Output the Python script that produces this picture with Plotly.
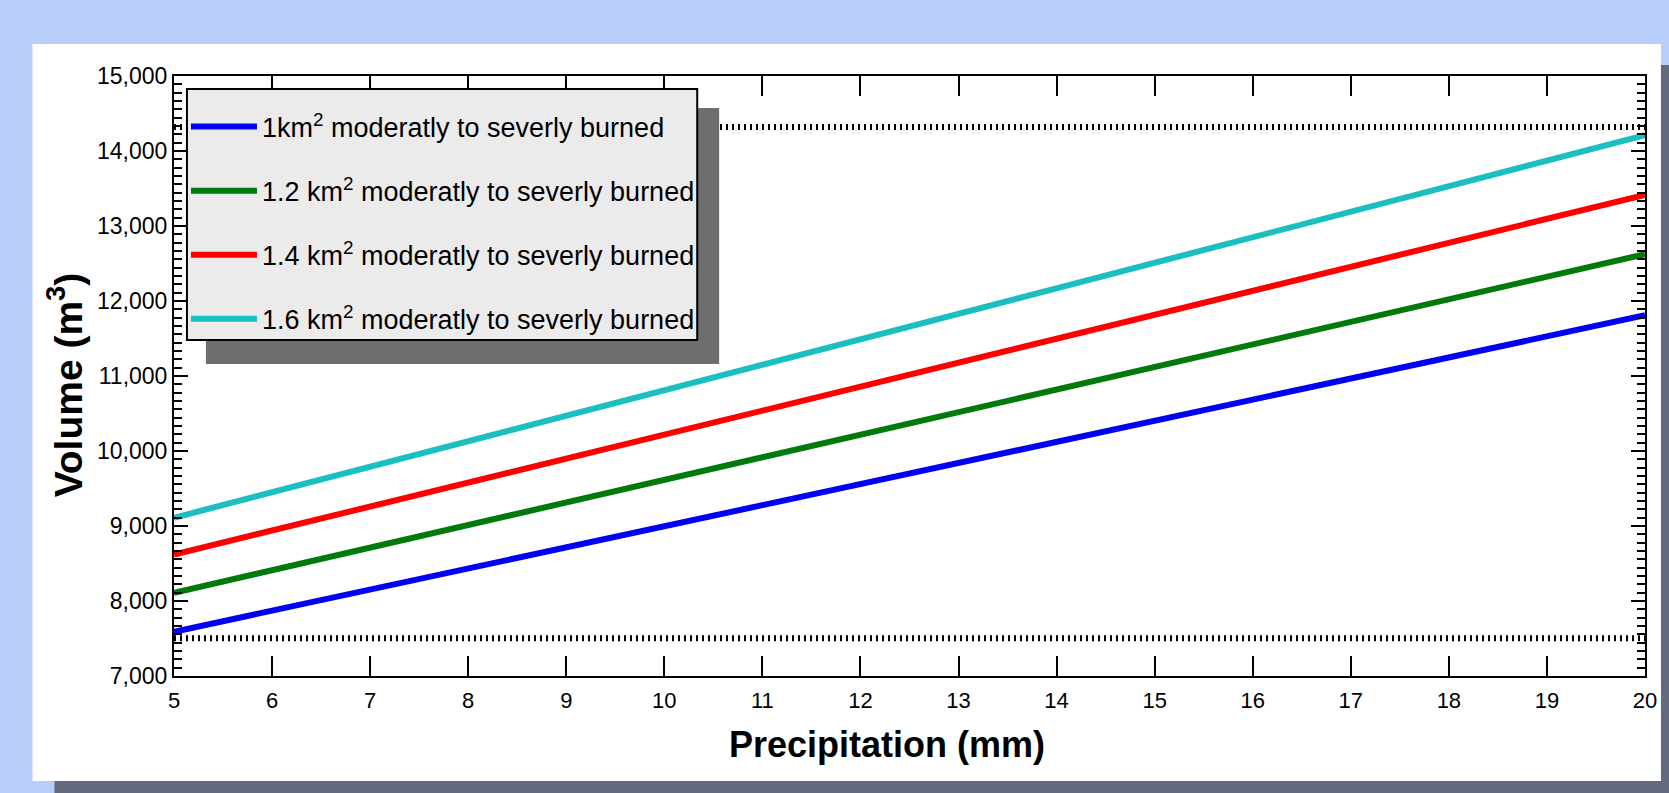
import plotly.graph_objects as go

# ---- data ----
precip_mm = [5, 20]
vol_1_0 = [7590, 11810]
vol_1_2 = [8110, 12625]
vol_1_4 = [8620, 13415]
vol_1_6 = [9110, 14210]
series_names = [
    "1km<sup>2</sup> moderatly to severly burned",
    "1.2 km<sup>2</sup> moderatly to severly burned",
    "1.4 km<sup>2</sup> moderatly to severly burned",
    "1.6 km<sup>2</sup> moderatly to severly burned",
]
series_colors = ["#0000f2", "#007a0a", "#ff0000", "#1cbfbf"]
x_ticks = list(range(5, 21))
y_ticks = list(range(7000, 15001, 1000))
ref_levels = [14320, 7505]

FONT = "Liberation Sans, Arial, sans-serif"

W, H = 1669, 793
L, R, T, B = 174, 19, 76, 117
PW, PH = W - L - R, H - T - B


def px_x(p):
    return (p - L) / PW


def px_y(p):
    return (H - B - p) / PH


fig = go.Figure()
for i, (vals, name, col) in enumerate(zip([vol_1_0, vol_1_2, vol_1_4, vol_1_6], series_names, series_colors)):
    fig.add_trace(go.Scatter(x=precip_mm, y=vals, mode="lines", name=name,
                             legendgroup=f"g{i}",
                             line=dict(color=col, width=6)))

shapes = []
# page decoration: dark shadow then white panel (below plot)
shapes.append(dict(type="rect", xref="paper", yref="paper", layer="below",
                   x0=px_x(54), x1=px_x(1700), y0=px_y(820), y1=px_y(65),
                   fillcolor="#646a7e", line=dict(width=0)))
shapes.append(dict(type="rect", xref="paper", yref="paper", layer="below",
                   x0=px_x(32), x1=px_x(1666), y0=px_y(781), y1=px_y(44),
                   fillcolor="white", line=dict(width=0)))
# dotted reference levels
for lv in ref_levels:
    shapes.append(dict(type="line", xref="paper", yref="y", layer="above",
                       x0=0, x1=1, y0=lv, y1=lv,
                       line=dict(color="black", width=6, dash="2px,4px")))
# legend shadow and legend box
shapes.append(dict(type="rect", xref="paper", yref="paper", layer="above",
                   x0=px_x(206), x1=px_x(721), y0=px_y(364), y1=px_y(108),
                   fillcolor="#6e6e6e", line=dict(width=0)))
shapes.append(dict(type="rect", xref="paper", yref="paper", layer="above",
                   x0=px_x(187), x1=px_x(699), y0=px_y(340), y1=px_y(89),
                   fillcolor="#ebebeb", line=dict(color="black", width=2)))

annotations = [
    dict(text="Precipitation (mm)", xref="paper", yref="paper",
         x=px_x(889), y=px_y(744), showarrow=False, xanchor="center", yanchor="middle",
         font=dict(family=FONT, size=36, color="black", weight="bold")),
    dict(text="Volume (m<sup>3</sup>)", xref="paper", yref="paper",
         x=px_x(64), y=px_y(385), showarrow=False, xanchor="center", yanchor="middle",
         textangle=-90,
         font=dict(family=FONT, size=39, color="black", weight="bold")),
]

fig.update_layout(
    width=W, height=H,
    margin=dict(l=L, r=R, t=T, b=B, pad=0),
    paper_bgcolor="#b8cdfa",
    plot_bgcolor="rgba(0,0,0,0)",
    font=dict(family=FONT, color="black"),
    shapes=shapes,
    annotations=annotations,
    showlegend=True,
    legend=dict(x=px_x(186), y=px_y(102.5), xanchor="left", yanchor="top",
                bgcolor="rgba(0,0,0,0)", borderwidth=0,
                font=dict(family=FONT, size=27, color="black"),
                traceorder="grouped", tracegroupgap=26, itemwidth=66),
    xaxis=dict(range=[5, 20], tickvals=x_ticks, ticks="inside", ticklen=20, tickwidth=2,
               tickcolor="black", showline=True, linecolor="black", linewidth=2,
               mirror="ticks", showgrid=False, zeroline=False, ticklabelstandoff=4,
               tickfont=dict(family=FONT, size=22, color="black")),
    yaxis=dict(range=[7000, 15000], tickvals=y_ticks, tickformat=",d", ticks="inside",
               ticklen=14, tickwidth=2, tickcolor="black", showline=True,
               linecolor="black", linewidth=2, mirror="ticks", showgrid=False,
               zeroline=False,
               minor=dict(ticks="inside", ticklen=8, tickwidth=2, tickcolor="black",
                          tick0=7000, dtick=1000 / 9, showgrid=False),
               tickfont=dict(family=FONT, size=23, color="black")),
)

fig.write_html("out.html", config={"displayModeBar": False},
               post_script="document.body.style.margin='0';document.body.style.overflow='hidden';")
